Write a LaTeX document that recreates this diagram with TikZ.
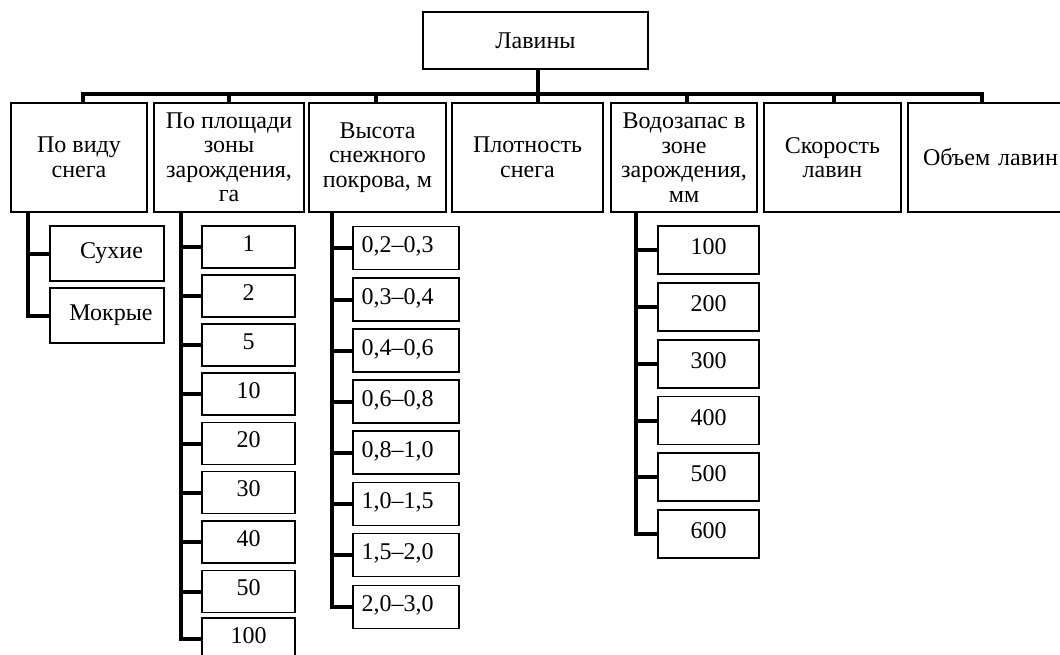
\documentclass[tikz,border=0pt]{standalone}
\usepackage{fontspec}
\setmainfont{Liberation Serif}
\begin{document}
\begin{tikzpicture}[x=1pt,y=-1pt,
  box/.style={draw, line width=1.8pt, rectangle, inner sep=0pt, align=center,
    font=\fontsize{24}{24.5}\selectfont},
  numbox/.style={box, font=\fontsize{24}{24}\selectfont},
  conn/.style={line width=4pt},
]
\clip (0,0) rectangle (1060,654);
\useasboundingbox (0,0) rectangle (1060,654);
% root
\node[box, minimum width=225pt, minimum height=57pt] (top) at (535.5,40.5) {Лавины};
% categories
\node[box, minimum width=136pt, minimum height=109pt] (c1) at (79,157.5) {По виду\\снега};
\node[box, minimum width=150pt, minimum height=109pt] (c2) at (229,157.5) {По площади\\зоны\\зарождения,\\га};
\node[box, minimum width=137pt, minimum height=109pt] (c3) at (377.5,157.5) {Высота\\снежного\\покрова, м};
\node[box, minimum width=151pt, minimum height=109pt] (c4) at (527.5,157.5) {Плотность\\снега};
\node[box, minimum width=146pt, minimum height=109pt] (c5) at (684,157.5) {Водозапас в\\зоне\\зарождения,\\мм};
\node[box, minimum width=137pt, minimum height=109pt] (c6) at (832.5,157.5) {Скорость\\лавин};
\node[box, minimum width=172pt, minimum height=109pt, align=left, text width=142pt] (c7) at (994,157.5) {Объем лавин};
% bus
\coordinate (bus) at (538,94);
\draw[conn] (bus |- top.south) -- (bus);
\draw[conn] (83,94) -- (982,94);
\foreach \n/\x in {c1/83,c2/229,c3/376,c4/538,c5/687,c6/834,c7/982}{
  \coordinate (d\n) at (\x,94);
  \draw[conn, line cap=rect] (d\n) -- (d\n |- \n.north);
}
% group 1
\node[box, minimum width=114pt, minimum height=55pt] (s1) at (107,253.5) {\hspace*{9pt}Сухие};
\node[box, minimum width=114pt, minimum height=55pt] (s2) at (107,315.5) {\hspace*{8pt}Мокрые};
\coordinate (v1) at (28,212);
\draw[conn] (v1) |- (s1.west);
\draw[conn] (v1) |- (s2.west);
% group 2
\foreach \i/\t/\y in {1/1/247,2/2/296,3/5/345,4/10/394,5/20/443.5,6/30/492.5,7/40/542,8/50/591.5,9/100/639}{
  \node[numbox, minimum width=93pt, minimum height=42pt, text depth=7.5pt] (a\i) at (248.5,\y) {\t};
}
\coordinate (v2) at (181,212);
\foreach \i in {1,...,9}{ \draw[conn] (v2) |- (a\i.west); }
% group 3
\foreach \i/\t/\y in {1/{0,2–0,3}/248,2/{0,3–0,4}/299.5,3/{0,4–0,6}/350.5,4/{0,6–0,8}/401.5,5/{0,8–1,0}/452.5,6/{1,0–1,5}/504,7/{1,5–2,0}/555,8/{2,0–3,0}/607}{
  \node[numbox, minimum width=106pt, minimum height=43pt, align=left, text width=89pt, text depth=6pt] (b\i) at (406,\y) {\t};
}
\coordinate (v3) at (332,212);
\foreach \i in {1,...,8}{ \draw[conn] (v3) |- (b\i.west); }
% group 5
\foreach \i/\t/\y in {1/100/250,2/200/307,3/300/364,4/400/420.5,5/500/477,6/600/534}{
  \node[numbox, minimum width=101pt, minimum height=48pt, text depth=6pt] (e\i) at (708.5,\y) {\t};
}
\coordinate (v5) at (636,212);
\foreach \i in {1,...,6}{ \draw[conn] (v5) |- (e\i.west); }
\end{tikzpicture}
\end{document}
